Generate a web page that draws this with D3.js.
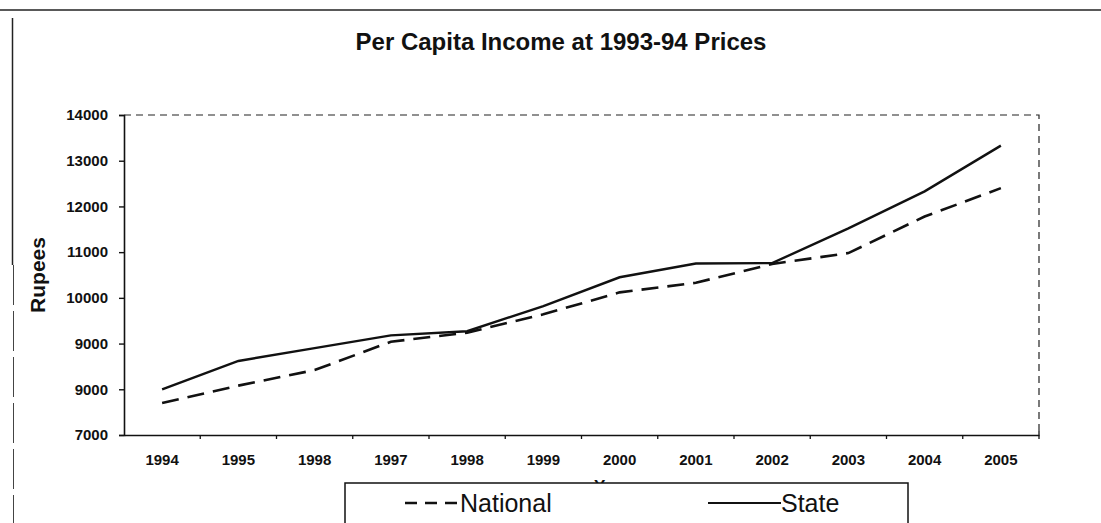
<!DOCTYPE html>
<html>
<head>
<meta charset="utf-8">
<script src="https://cdn.jsdelivr.net/npm/d3@7"></script>
<style>
  body { margin: 0; background: #fff; }
  svg { display: block; }
  text { font-family: "Liberation Sans", Arial, sans-serif; fill: #111; }
</style>
</head>
<body>
<svg id="chart"></svg>
<script>
// years on the x axis and the labels printed under them (as in the scan)
var years = [1994, 1995, 1996, 1997, 1998, 1999, 2000, 2001, 2002, 2003, 2004, 2005];
var yearLabels = ['1994', '1995', '1998', '1997', '1998', '1999', '2000', '2001', '2002', '2003', '2004', '2005'];
// per capita income, rupees
var national = [7700, 8080, 8420, 9040, 9240, 9640, 10120, 10330, 10740, 10980, 11780, 12400];
var state = [8000, 8620, 8900, 9180, 9270, 9820, 10450, 10750, 10760, 11520, 12330, 13330];
var yTicks = [7000, 8000, 9000, 10000, 11000, 12000, 13000, 14000];
var yTickLabels = ['7000', '9000', '9000', '10000', '11000', '12000', '13000', '14000'];

var W = 1101, H = 523;
var svg = d3.select('#chart').attr('width', W).attr('height', H);

var mLeft = 124, mRight = 1039, mTop = 115, mBottom = 435;

var x = d3.scaleBand().domain(years).range([mLeft, mRight]);
var y = d3.scaleLinear().domain([7000, 14000]).range([mBottom, mTop]);

// outer frame of the scanned figure
svg.append('line').attr('x1', 0).attr('x2', W).attr('y1', 10).attr('y2', 10)
    .attr('stroke', '#222').attr('stroke-width', 1.6);
svg.append('line').attr('x1', 12.5).attr('x2', 12.5).attr('y1', 18).attr('y2', 265)
    .attr('stroke', '#222').attr('stroke-width', 1.5);
svg.append('line').attr('x1', 13.5).attr('x2', 13.5).attr('y1', 265).attr('y2', 523)
    .attr('stroke', '#444').attr('stroke-width', 1).attr('stroke-dasharray', '40,6');

svg.append('text').attr('x', 561).attr('y', 50).attr('text-anchor', 'middle')
    .style('font-size', '24px').style('font-weight', 'bold')
    .text('Per Capita Income at 1993-94 Prices');

// plot area dashed border (top and right)
svg.append('path')
    .attr('d', 'M' + mLeft + ',' + mTop + 'H' + mRight + 'V' + mBottom)
    .attr('fill', 'none').attr('stroke', '#222').attr('stroke-width', 1.2)
    .attr('stroke-dasharray', '7,5');

// y axis
var yAxis = d3.axisLeft(y).tickValues(yTicks).tickSize(5)
    .tickFormat(function(d, i) { return yTickLabels[i]; });
var gy = svg.append('g').attr('transform', 'translate(' + mLeft + ',0)').call(yAxis);
gy.select('.domain').attr('stroke', '#111').attr('stroke-width', 1.6);
gy.selectAll('.tick line').attr('stroke', '#111').attr('stroke-width', 1.4);
gy.selectAll('.tick text').attr('x', -16).style('font-size', '15px').style('font-weight', 'bold')
    .style('font-family', '"Liberation Sans", Arial, sans-serif');

// x axis
var xAxis = d3.axisBottom(x).tickSize(0).tickFormat(function(d, i) { return yearLabels[i]; });
var gx = svg.append('g').attr('transform', 'translate(0,' + mBottom + ')').call(xAxis);
gx.select('.domain').attr('stroke', '#111').attr('stroke-width', 1.6);
gx.selectAll('.tick text').attr('y', 19).style('font-size', '15px').style('font-weight', 'bold')
    .style('font-family', '"Liberation Sans", Arial, sans-serif');
// tick marks between categories
svg.append('g').selectAll('line').data(years.slice(1)).enter().append('line')
    .attr('x1', function(d) { return x(d); }).attr('x2', function(d) { return x(d); })
    .attr('y1', mBottom).attr('y2', mBottom + 4)
    .attr('stroke', '#111').attr('stroke-width', 1.3);
svg.append('line').attr('x1', mRight).attr('x2', mRight).attr('y1', mBottom - 4).attr('y2', mBottom + 4)
    .attr('stroke', '#111').attr('stroke-width', 1.3);

svg.append('text').attr('transform', 'translate(45,' + ((mTop + mBottom) / 2) + ') rotate(-90)')
    .attr('text-anchor', 'middle').style('font-size', '21px').style('font-weight', 'bold')
    .text('Rupees');

svg.append('text').attr('x', 612).attr('y', 492).attr('text-anchor', 'middle')
    .style('font-size', '17px').style('font-weight', 'bold').text('Year');

var line = d3.line()
    .x(function(d, i) { return x(years[i]) + x.bandwidth() / 2; })
    .y(function(d) { return y(d); });

svg.append('path').attr('d', line(national)).attr('fill', 'none')
    .attr('stroke', '#111').attr('stroke-width', 2.6).attr('stroke-dasharray', '17,9');
svg.append('path').attr('d', line(state)).attr('fill', 'none')
    .attr('stroke', '#111').attr('stroke-width', 2.4);

// legend
var lg = svg.append('g');
lg.append('rect').attr('x', 345).attr('y', 483).attr('width', 563).attr('height', 60)
    .attr('fill', '#fff').attr('stroke', '#111').attr('stroke-width', 1.5);
lg.append('line').attr('x1', 405).attr('x2', 457).attr('y1', 503).attr('y2', 503)
    .attr('stroke', '#111').attr('stroke-width', 2.4).attr('stroke-dasharray', '12,8');
lg.append('text').attr('x', 460).attr('y', 512).style('font-size', '25px').text('National');
lg.append('line').attr('x1', 708).attr('x2', 781).attr('y1', 503).attr('y2', 503)
    .attr('stroke', '#111').attr('stroke-width', 2);
lg.append('text').attr('x', 781).attr('y', 512).style('font-size', '25px').text('State');
</script>
</body>
</html>
